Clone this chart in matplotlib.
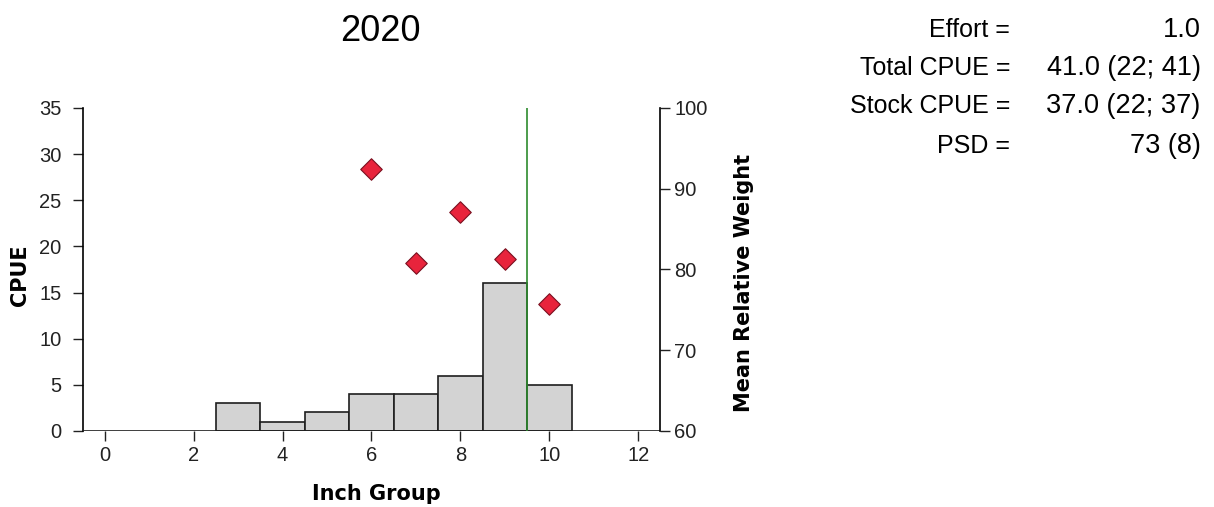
import numpy as np
import matplotlib.pyplot as plt

plt.rcParams['font.family'] = ['Liberation Sans', 'DejaVu Sans']

# data
inch_group = [3, 4, 5, 6, 7, 8, 9, 10]
cpue = [3, 1, 2, 4, 4, 6, 16, 5]
wr_x = [6, 7, 8, 9, 10]
wr_y = [92.4, 80.8, 87.1, 81.3, 75.7]
stock_len = 9.5
stat_names = ['Effort =', 'Total CPUE =', 'Stock CPUE =', 'PSD =']
stat_vals = ['1.0', '41.0 (22; 41)', '37.0 (22; 37)', '73 (8)']

fig = plt.figure(figsize=(12.14, 5.07), dpi=100)
ax = fig.add_axes([0.068, 0.150, 0.476, 0.637])

ax.bar(inch_group, cpue, width=1.0, color='#d3d3d3', edgecolor='#1e1e1e', linewidth=1.2, zorder=2)
ax.axhline(0, color='#1e1e1e', linewidth=1.2, zorder=3)
ax.axvline(stock_len, color='#2e8b2e', linewidth=1.2, zorder=4)
ax.set_xlim(-0.5, 12.5)
ax.set_ylim(0, 35)
ax.set_xticks(np.arange(0, 13, 2))
ax.set_yticks(np.arange(0, 36, 5))
ax.tick_params(labelsize=14.5, direction='out', length=7, width=1, colors='#222222')
ax.tick_params(axis='y', pad=8)
for s in ['top', 'right', 'bottom']:
    ax.spines[s].set_visible(False)
ax.spines['left'].set_linewidth(1.2)
lab = dict(family='DejaVu Sans', fontweight='bold', fontsize=15)
ax.set_xlabel('Inch Group', **lab)
ax.set_ylabel('CPUE', **lab)
ax.xaxis.set_label_coords(0.508, -0.165)
ax.yaxis.set_label_coords(-0.091, 0.483)
ax.set_title('2020', fontsize=26, pad=48, x=0.515)

ax2 = ax.twinx()
ax2.scatter(wr_x, wr_y, marker='D', s=120, color='#e8243c', edgecolor='#7a1020', linewidth=0.8, zorder=5)
ax2.set_ylim(60, 100)
ax2.set_yticks(np.arange(60, 101, 10))
ax2.tick_params(labelsize=14.5, direction='out', length=7, width=1, colors='#222222', pad=3)
for s in ['top', 'left', 'bottom']:
    ax2.spines[s].set_visible(False)
ax2.spines['right'].set_linewidth(1.2)
ax2.set_ylabel('Mean Relative Weight', **lab)
ax2.yaxis.set_label_coords(1.128, 0.458)

ys = [0.94, 0.865, 0.79, 0.713]
for name, val, y in zip(stat_names, stat_vals, ys):
    fig.text(0.832, y, name, ha='right', va='center', fontsize=18)
    fig.text(0.989, y, val, ha='right', va='center', fontsize=19.5)

fig.savefig('out.png', dpi=100)
